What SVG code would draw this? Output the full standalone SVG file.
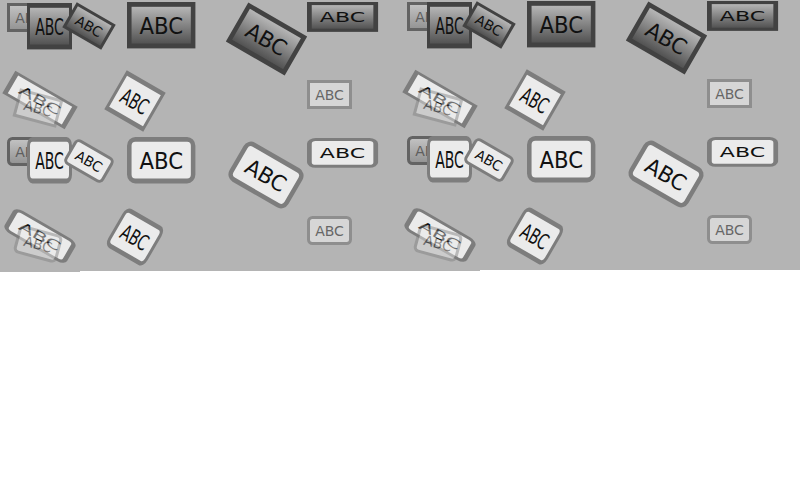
<svg xmlns="http://www.w3.org/2000/svg" xmlns:xlink="http://www.w3.org/1999/xlink" width="800" height="480" viewBox="0 0 800 480">
<style>
.dk{--f:url(#gd);--s:#424242;--t:#111}
.dd{--f:url(#gdd);--s:#636363;--t:#5e5e5e}
.lt{--f:#ebebeb;--s:#7d7d7d;--t:#111}
.ld{--f:#d6d6d6;--s:#8e8e8e;--t:#666}
.gh{opacity:0.45}
</style>
<defs>
<linearGradient id="gd" x1="0" y1="0" x2="0" y2="1"><stop offset="0" stop-color="#bcbcbc"/><stop offset="1" stop-color="#4c4c4c"/></linearGradient>
<linearGradient id="gdd" x1="0" y1="0" x2="0" y2="1"><stop offset="0" stop-color="#c4c4c4"/><stop offset="1" stop-color="#929292"/></linearGradient>
<g id="bs"><rect x="1.5" y="1.5" width="42" height="26" style="fill:var(--f);stroke:var(--s);stroke-width:3"/><text x="22.5" y="19.8" style="fill:var(--t);font-family:'DejaVu Sans','Liberation Sans',sans-serif;font-size:14px;text-anchor:middle">ABC</text></g>
<g id="br"><rect x="1.5" y="1.5" width="42" height="26" rx="4" style="fill:var(--f);stroke:var(--s);stroke-width:3"/><text x="22.5" y="19.8" style="fill:var(--t);font-family:'DejaVu Sans','Liberation Sans',sans-serif;font-size:14px;text-anchor:middle">ABC</text></g>
<g id="copy">
<g id="n-r1c1" class="dd"><use xlink:href="#bs" transform="translate(7,3)"/></g>
<g id="n-r1c2" class="dk"><use xlink:href="#bs" transform="translate(27,3) scale(1,1.6)"/></g>
<g id="n-r1c3" class="dk"><use xlink:href="#bs" transform="translate(89,26) rotate(30) translate(-22.5,-14.5)"/></g>
<g id="n-r1c4" class="dk"><use xlink:href="#bs" transform="translate(127,2) scale(1.52,1.6)"/></g>
<g id="n-r1c5" class="dk"><use xlink:href="#bs" transform="translate(266.5,39) rotate(30) scale(1.51,1.55) translate(-22.5,-14.5)"/></g>
<g id="n-r1c6" class="dk"><use xlink:href="#bs" transform="translate(307,2) scale(1.58,1.03)"/></g>
<g id="n-r2c1" class="lt"><use xlink:href="#bs" transform="translate(40,100) rotate(30) scale(1.6,0.9) translate(-22.5,-14.5)"/></g>
<g id="n-r2c1g" class="lt gh"><use xlink:href="#bs" transform="translate(38,108) rotate(15) translate(-22.5,-14.5)"/></g>
<g id="n-r2c2" class="lt"><use xlink:href="#bs" transform="translate(135,101) rotate(30) scale(1,1.55) translate(-22.5,-14.5)"/></g>
<g id="n-r2c6" class="ld"><use xlink:href="#bs" transform="translate(307,80)"/></g>
<g id="n-r3c1" class="dd"><use xlink:href="#br" transform="translate(7,137)"/></g>
<g id="n-r3c2" class="lt"><use xlink:href="#br" transform="translate(27,137) scale(1,1.6)"/></g>
<g id="n-r3c3" class="lt"><use xlink:href="#br" transform="translate(89,161) rotate(30) translate(-22.5,-14.5)"/></g>
<g id="n-r3c4" class="lt"><use xlink:href="#br" transform="translate(127,137) scale(1.52,1.6)"/></g>
<g id="n-r3c5" class="lt"><use xlink:href="#br" transform="translate(266,175) rotate(30) scale(1.51,1.55) translate(-22.5,-14.5)"/></g>
<g id="n-r3c6" class="lt"><use xlink:href="#br" transform="translate(307,138) scale(1.58,1.03)"/></g>
<g id="n-r4c1" class="lt"><use xlink:href="#br" transform="translate(40,236) rotate(30) scale(1.6,0.9) translate(-22.5,-14.5)"/></g>
<g id="n-r4c1g" class="lt gh"><use xlink:href="#br" transform="translate(38,244) rotate(15) translate(-22.5,-14.5)"/></g>
<g id="n-r4c2" class="lt"><use xlink:href="#br" transform="translate(135,237) rotate(30) scale(1,1.55) translate(-22.5,-14.5)"/></g>
<g id="n-r4c6" class="ld"><use xlink:href="#br" transform="translate(307,216)"/></g>
</g>
</defs>
<rect width="800" height="480" fill="#ffffff"/>
<rect x="0" y="0" width="80" height="272" fill="#b4b4b4"/>
<rect x="80" y="0" width="400" height="271" fill="#b4b4b4"/>
<rect x="480" y="0" width="320" height="270" fill="#b4b4b4"/>
<g id="left"><use xlink:href="#copy"/></g>
<g id="right"><use xlink:href="#copy" transform="translate(400,-1)"/></g>
<g id="connectors"/>
</svg>
